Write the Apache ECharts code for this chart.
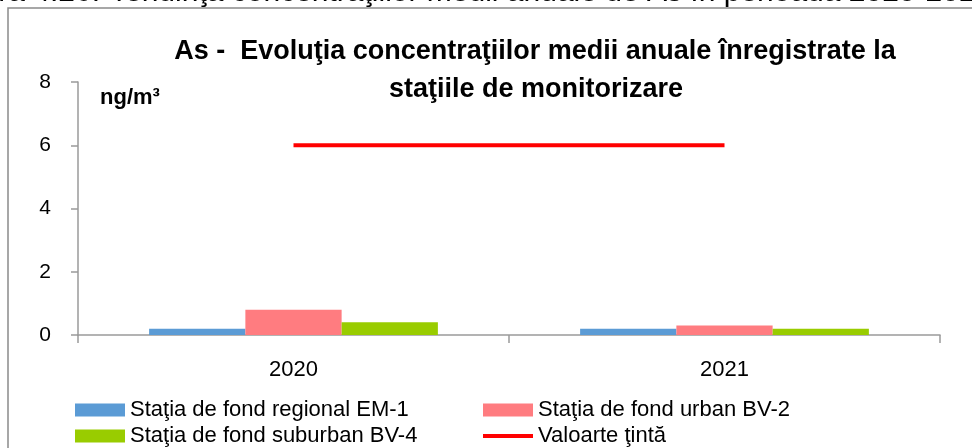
<!DOCTYPE html>
<html lang="ro">
<head>
<meta charset="UTF-8">
<title>As - Evoluţia concentraţiilor medii anuale</title>
<script src="https://cdn.jsdelivr.net/npm/echarts@6/dist/echarts.min.js"></script>
<style>
  html, body { margin: 0; padding: 0; background: #fff; }
  #chart { width: 972px; height: 448px; }
</style>
</head>
<body>
<div id="chart"></div>
<script>
// date
var years = ['2020', '2021'];
var em1 = [0.2, 0.2];   // Staţia de fond regional EM-1
var bv2 = [0.8, 0.3];   // Staţia de fond urban BV-2
var bv4 = [0.4, 0.2];   // Staţia de fond suburban BV-4
var tinta = [6, 6];     // Valoarte ţintă
var yTicks = [0, 2, 4, 6, 8];

var names = [
  'Staţia de fond regional EM-1',
  'Staţia de fond urban BV-2',
  'Staţia de fond suburban BV-4',
  'Valoarte ţintă'
];

var font = '"Liberation Sans", Arial, sans-serif';
var axisColor = '#9a9a9a';

var chart = echarts.init(document.getElementById('chart'));

function legendAt(name, left, top, isLine) {
  return {
    data: [name],
    left: left,
    top: top,
    icon: 'rect',
    itemWidth: 50,
    itemHeight: isLine ? 4 : 13,
    itemGap: 0,
    padding: 0,
    selectedMode: false,
    textStyle: { fontFamily: font, fontSize: 22, color: '#000' }
  };
}

chart.setOption({
  animation: false,
  textStyle: { fontFamily: font },
  graphic: [
    {
      type: 'rect',
      shape: { x: 8, y: 8, width: 1000, height: 500 },
      style: { fill: 'none', stroke: '#8a8a8a', lineWidth: 1.5 },
      silent: true
    },
    // legenda figurii din document, taiata de marginea de sus
    {
      type: 'text',
      x: 100,
      y: -22,
      style: {
        text: 'Figura 4.26.',
        font: '30px ' + font,
        fill: '#000',
        align: 'right',
        verticalAlign: 'top'
      },
      silent: true
    },
    {
      type: 'text',
      x: 110,
      y: -22,
      style: {
        text: 'Tendinţa concentraţiilor medii anuale de As în perioada 2020-2021',
        font: '30px ' + font,
        fill: '#000',
        align: 'left',
        verticalAlign: 'top'
      },
      silent: true
    },
    {
      type: 'text',
      x: 535,
      y: 52,
      style: {
        text: 'As -  Evoluţia concentraţiilor medii anuale înregistrate la',
        font: 'bold 27px ' + font,
        fill: '#000',
        align: 'center',
        verticalAlign: 'middle'
      },
      silent: true
    },
    {
      type: 'text',
      x: 536,
      y: 90,
      style: {
        text: 'staţiile de monitorizare',
        font: 'bold 27px ' + font,
        fill: '#000',
        align: 'center',
        verticalAlign: 'middle'
      },
      silent: true
    }
  ],
  legend: [
    legendAt(names[0], 75, 399),
    legendAt(names[1], 483, 399),
    legendAt(names[2], 75, 425),
    legendAt(names[3], 483, 425, true)
  ],
  grid: { left: 78, right: 32, top: 82, bottom: 113 },
  xAxis: {
    type: 'category',
    data: years,
    axisLine: { lineStyle: { color: axisColor, width: 1.5 } },
    axisTick: { show: true, length: 8, lineStyle: { color: axisColor, width: 1.5 } },
    axisLabel: { fontSize: 22, color: '#000', margin: 24, fontFamily: font }
  },
  yAxis: {
    type: 'value',
    min: yTicks[0],
    max: yTicks[yTicks.length - 1],
    interval: 2,
    name: 'ng/m³',
    nameLocation: 'end',
    nameGap: -27,
    nameTextStyle: {
      align: 'left',
      padding: [0, 0, 0, 22],
      fontWeight: 'bold',
      fontSize: 22,
      color: '#000',
      fontFamily: font
    },
    splitLine: { show: false },
    axisLine: { show: true, lineStyle: { color: axisColor, width: 1.5 } },
    axisTick: { show: true, length: 7, lineStyle: { color: axisColor, width: 1.5 } },
    axisLabel: { fontSize: 21, color: '#000', margin: 27, fontFamily: font }
  },
  series: [
    {
      name: names[0], type: 'bar', data: em1,
      barGap: '0%', barCategoryGap: '33%',
      itemStyle: { color: '#5B9BD5' }
    },
    {
      name: names[1], type: 'bar', data: bv2,
      itemStyle: { color: '#FF7C80' }
    },
    {
      name: names[2], type: 'bar', data: bv4,
      itemStyle: { color: '#99CC00' }
    },
    {
      name: names[3], type: 'line', data: tinta,
      symbol: 'none',
      lineStyle: { color: '#FF0000', width: 4 },
      itemStyle: { color: '#FF0000' }
    }
  ]
});
</script>
</body>
</html>
